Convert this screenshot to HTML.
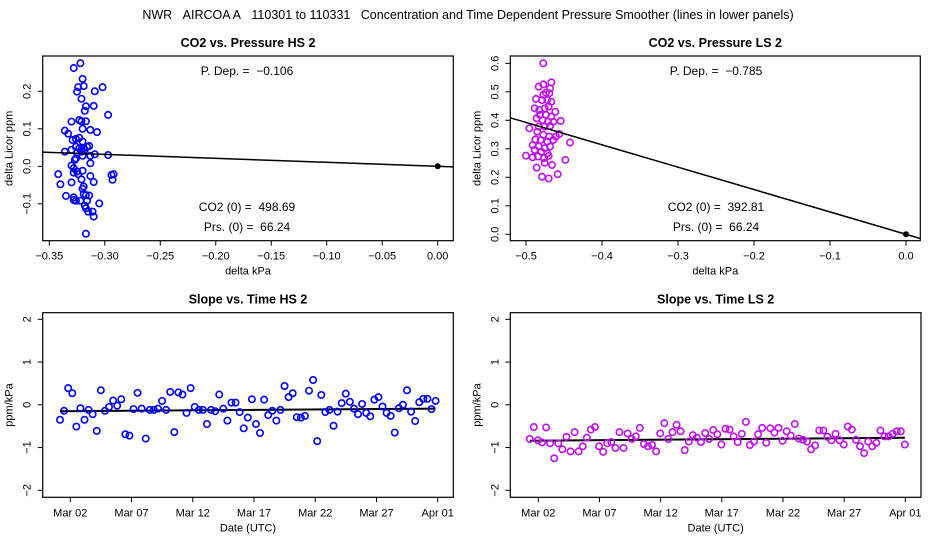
<!DOCTYPE html>
<html><head><meta charset="utf-8"><style>
body{margin:0;background:#fff;}
svg{display:block;font-family:"Liberation Sans",sans-serif;}
</style></head><body>
<svg id="c" width="936" height="540" xmlns="http://www.w3.org/2000/svg">
<text x="468" y="19" text-anchor="middle" font-size="12.5">NWR&#160;&#160;&#160;AIRCOA A&#160;&#160;&#160;110301 to 110331&#160;&#160;&#160;Concentration and Time Dependent Pressure Smoother (lines in lower panels)</text>
</svg>
<script>
// ---- data ----
const hsSlope = -0.106, lsSlope = -0.785;
const hsX = [-0.322,-0.328,-0.320,-0.319,-0.324,-0.325,-0.309,-0.302,-0.321,-0.317,-0.310,-0.318,-0.297,-0.330,-0.323,-0.321,-0.317,-0.320,-0.313,-0.307,-0.336,-0.333,-0.329,-0.326,-0.323,-0.320,-0.326,-0.323,-0.319,-0.316,-0.314,-0.330,-0.336,-0.325,-0.321,-0.318,-0.309,-0.313,-0.320,-0.326,-0.327,-0.313,-0.330,-0.297,-0.328,-0.320,-0.325,-0.328,-0.342,-0.324,-0.313,-0.294,-0.293,-0.321,-0.340,-0.330,-0.310,-0.319,-0.320,-0.319,-0.317,-0.314,-0.335,-0.328,-0.328,-0.326,-0.322,-0.316,-0.305,-0.318,-0.317,-0.315,-0.311,-0.310,-0.317,-0.292];
const hsY = [0.275,0.262,0.233,0.214,0.211,0.199,0.200,0.211,0.180,0.160,0.161,0.148,0.137,0.119,0.123,0.120,0.120,0.100,0.097,0.091,0.095,0.087,0.070,0.073,0.076,0.066,0.052,0.048,0.048,0.052,0.054,0.044,0.039,0.036,0.039,0.044,0.032,0.028,0.028,0.021,0.017,0.008,0.002,0.030,-0.005,-0.012,-0.014,-0.017,-0.021,-0.021,-0.026,-0.023,-0.036,-0.035,-0.048,-0.043,-0.042,-0.054,-0.060,-0.074,-0.077,-0.078,-0.079,-0.083,-0.090,-0.092,-0.092,-0.092,-0.099,-0.105,-0.112,-0.121,-0.121,-0.134,-0.180,-0.021];
const lsX = [-0.4772,-0.4833,-0.4772,-0.4667,-0.4684,-0.4737,-0.4693,-0.4772,-0.4868,-0.4789,-0.4719,-0.4667,-0.4886,-0.4825,-0.4754,-0.4702,-0.4614,-0.4816,-0.4737,-0.4667,-0.4860,-0.4781,-0.4711,-0.4640,-0.4544,-0.4956,-0.4833,-0.4754,-0.4684,-0.4851,-0.4772,-0.4693,-0.4605,-0.4561,-0.4877,-0.4807,-0.4719,-0.4640,-0.4912,-0.4833,-0.4754,-0.4684,-0.4421,-0.4886,-0.4798,-0.4719,-0.5000,-0.4912,-0.4842,-0.4763,-0.4702,-0.4482,-0.4754,-0.4658,-0.4860,-0.4583,-0.4789,-0.4702];
const lsY = [0.600,0.518,0.526,0.533,0.512,0.497,0.495,0.489,0.475,0.471,0.471,0.465,0.442,0.436,0.442,0.448,0.430,0.419,0.419,0.413,0.407,0.401,0.395,0.395,0.398,0.372,0.378,0.378,0.380,0.360,0.349,0.343,0.343,0.352,0.333,0.331,0.325,0.331,0.313,0.308,0.302,0.308,0.322,0.296,0.290,0.284,0.276,0.270,0.273,0.267,0.275,0.261,0.251,0.243,0.234,0.211,0.202,0.196];
const hsStart = -0.84, lsStart = -0.70, stepDays = 1/3;
const hsSlopeT = [-0.35,-0.14,0.39,0.27,-0.51,-0.08,-0.35,-0.12,-0.22,-0.61,0.34,-0.14,-0.05,0.10,-0.02,0.13,-0.69,-0.72,-0.10,0.28,-0.09,-0.79,-0.12,-0.12,-0.09,0.09,-0.12,0.30,-0.64,0.29,0.24,-0.19,0.39,-0.05,-0.12,-0.12,-0.45,-0.12,-0.15,0.24,-0.09,-0.37,0.05,0.05,-0.17,-0.55,-0.30,0.13,-0.45,-0.66,0.12,-0.24,-0.14,-0.37,-0.12,0.44,0.18,0.27,-0.29,-0.30,-0.26,0.33,0.58,-0.85,0.23,-0.17,-0.12,-0.49,-0.16,0.04,0.26,0.07,-0.09,-0.22,0.02,-0.19,-0.27,0.12,0.18,-0.04,-0.19,-0.26,-0.65,-0.08,0.00,0.34,-0.16,-0.38,0.06,0.14,0.14,-0.10,0.09];
const lsSlopeT = [-0.80,-0.52,-0.83,-0.88,-0.53,-0.90,-1.25,-0.90,-1.04,-0.75,-1.09,-0.64,-1.09,-0.97,-0.77,-0.58,-0.52,-0.97,-1.10,-0.90,-0.87,-1.01,-0.64,-1.01,-0.67,-0.80,-0.74,-0.54,-0.92,-0.97,-0.94,-1.09,-0.67,-0.43,-0.80,-0.64,-0.47,-0.62,-1.06,-0.86,-0.71,-0.77,-0.87,-0.66,-0.80,-0.59,-0.69,-0.93,-0.56,-0.58,-0.74,-0.87,-0.68,-0.40,-0.94,-0.86,-0.69,-0.54,-0.89,-0.55,-0.65,-0.54,-0.84,-0.62,-0.72,-0.45,-0.79,-0.82,-0.86,-1.04,-0.95,-0.60,-0.60,-0.75,-0.83,-0.68,-0.83,-0.93,-0.51,-0.58,-0.82,-0.97,-1.13,-0.86,-0.97,-0.89,-0.60,-0.74,-0.74,-0.68,-0.62,-0.62,-0.93];
const hsFit = [-0.15,-0.09], lsFit = [-0.84,-0.77];
const hsXTicks = [-0.35,-0.30,-0.25,-0.20,-0.15,-0.10,-0.05,0.00];
const hsXTickLabels = ["-0.35","-0.30","-0.25","-0.20","-0.15","-0.10","-0.05","0.00"];
const hsYTicks = [-0.1,0.0,0.1,0.2];
const hsYTickLabels = ["-0.1","0.0","0.1","0.2"];
const lsXTicks = [-0.5,-0.4,-0.3,-0.2,-0.1,0.0];
const lsXTickLabels = ["-0.5","-0.4","-0.3","-0.2","-0.1","0.0"];
const lsYTicks = [0,0.1,0.2,0.3,0.4,0.5,0.6];
const lsYTickLabels = ["0.0","0.1","0.2","0.3","0.4","0.5","0.6"];
const dateTicks = [0,5,10,15,20,25,30];
const dateTickLabels = ["Mar 02","Mar 07","Mar 12","Mar 17","Mar 22","Mar 27","Apr 01"];
const slopeYTicks = [-2,-1,0,1,2];
const slopeYTickLabels = ["-2","-1","0","1","2"];

const NS="http://www.w3.org/2000/svg", svg=document.getElementById('c');
function el(t,a,p){const e=document.createElementNS(NS,t);for(const k in a)e.setAttribute(k,a[k]);(p||svg).appendChild(e);return e;}
function lin(d0,d1,p0,p1){return v=>p0+(v-d0)*(p1-p0)/(d1-d0);}

function panel(o){
  const g=el('g',{});
  
  
  const b=el('rect',{x:o.L,y:o.T,width:o.R-o.L,height:o.B-o.T,fill:'none',stroke:'#000','stroke-width':1.2},g);
  
  
  const t=el('text',{x:(o.L+o.R)/2,y:o.T-9,'text-anchor':'middle','font-size':12.5,'font-weight':'bold'},g);
  t.textContent=o.title;
  
  
  o.xt.forEach((v,i)=>{const x=o.sx(v);
    el('line',{x1:x,x2:x,y1:o.B,y2:o.B+5,stroke:'#000'},g);
    const l=el('text',{x:x,y:o.B+19,'text-anchor':'middle','font-size':11},g);
    l.textContent=o.xl[i].replace('-','\u2212');
    
    });
  o.yt.forEach((v,i)=>{const y=o.sy(v);
    el('line',{x1:o.L,x2:o.L-5,y1:y,y2:y,stroke:'#000'},g);
    const l=el('text',{x:o.L-12,y:y,'text-anchor':'middle','font-size':11,transform:`rotate(-90 ${o.L-12} ${y})`},g);
    l.textContent=o.yl[i].replace('-','\u2212');
    
    });
  const xa=el('text',{x:(o.L+o.R)/2,y:o.B+34,'text-anchor':'middle','font-size':11},g);
  xa.textContent=o.xlab;
  
  
  const yx=o.L-30,yy=(o.T+o.B)/2;
  const ya=el('text',{x:yx,y:yy,'text-anchor':'middle','font-size':11,transform:`rotate(-90 ${yx} ${yy})`},g);
  ya.textContent=o.ylab;
  
  
  const clip=el('clipPath',{id:o.name+'-clip'},g);
  el('rect',{x:o.L,y:o.T,width:o.R-o.L,height:o.B-o.T},clip);
  const m=el('g',{'clip-path':`url(#${o.name}-clip)`},g);
  return {g,m};
}
function dots(m,xs,ys,sx,sy,col){
  xs.forEach((x,i)=>{const c=el('circle',{cx:sx(x),cy:sy(ys[i]),r:3.2,fill:'none',stroke:col,'stroke-width':1.6},m);
    
    });
}
function txt(g,x,y,s){const t=el('text',{x:x,y:y,'text-anchor':'middle','font-size':12},g);t.textContent=s;
  
  }

// top-left
{const L=42.7,R=453.3,T=56,B=240.7;
 const sx=lin(-0.35,0,49.3,437.7), sy=lin(0,0.2,166.3,91.3);
 const p=panel({name:'hs-pressure-panel',L,R,T,B,sx,sy,xt:hsXTicks,xl:hsXTickLabels,yt:hsYTicks,yl:hsYTickLabels,title:'CO2 vs. Pressure HS 2',xlab:'delta kPa',ylab:'delta Licor ppm'});
 dots(p.m,hsX,hsY,sx,sy,'#0000ff');
 const x0=-0.37,x1=0.02;
 const ln=el('line',{x1:sx(x0),y1:sy(hsSlope*x0),x2:sx(x1),y2:sy(hsSlope*x1),stroke:'#000','stroke-width':1.5},p.m);
 
 
 el('circle',{cx:sx(0),cy:sy(0),r:3,fill:'#000'},p.m);
 txt(p.g,247,75,'P. Dep. =\u00a0\u00a0\u22120.106');txt(p.g,247,211,'CO2 (0) =\u00a0\u00a0498.69');txt(p.g,247,231,'Prs. (0) =\u00a0\u00a066.24');}
// top-right
{const L=510.3,R=920.3,T=56,B=240.7;
 const sx=lin(-0.5,0,526,906), sy=lin(0,0.6,234.3,63.3);
 const p=panel({name:'ls-pressure-panel',L,R,T,B,sx,sy,xt:lsXTicks,xl:lsXTickLabels,yt:lsYTicks,yl:lsYTickLabels,title:'CO2 vs. Pressure LS 2',xlab:'delta kPa',ylab:'delta Licor ppm'});
 dots(p.m,lsX,lsY,sx,sy,'#c010f0');
 const x0=-0.55,x1=0.03;
 const ln=el('line',{x1:sx(x0),y1:sy(lsSlope*x0),x2:sx(x1),y2:sy(lsSlope*x1),stroke:'#000','stroke-width':1.5},p.m);
 
 
 el('circle',{cx:sx(0),cy:sy(0),r:3,fill:'#000'},p.m);
 txt(p.g,716,75,'P. Dep. =\u00a0\u00a0\u22120.785');txt(p.g,716,211,'CO2 (0) =\u00a0\u00a0392.81');txt(p.g,716,231,'Prs. (0) =\u00a0\u00a066.24');}
// bottom
function slopePanel(name,title,L,R,d0,d30,vals,start,fit,col){
 const T=312.7,B=497.3;
 const sx=lin(0,30,d0,d30), sy=lin(-2,2,490.3,319.3);
 const p=panel({name,L,R,T,B,sx,sy,xt:dateTicks,xl:dateTickLabels,yt:slopeYTicks,yl:slopeYTickLabels,title,xlab:'Date (UTC)',ylab:'ppm/kPa'});
 const ts=vals.map((v,i)=>start+i*stepDays);
 const ln=el('line',{x1:sx(ts[0]),y1:sy(fit[0]),x2:sx(ts[ts.length-1]),y2:sy(fit[1]),stroke:'#000','stroke-width':2},p.m);
 
 
 dots(p.m,ts,vals,sx,sy,col);
}
slopePanel('hs-slope-panel','Slope vs. Time HS 2',42.7,453.3,70.3,437.7,hsSlopeT,hsStart,hsFit,'#0000ff');
slopePanel('ls-slope-panel','Slope vs. Time LS 2',510.3,921,538.3,905.3,lsSlopeT,lsStart,lsFit,'#c010f0');
</script>
</body></html>
